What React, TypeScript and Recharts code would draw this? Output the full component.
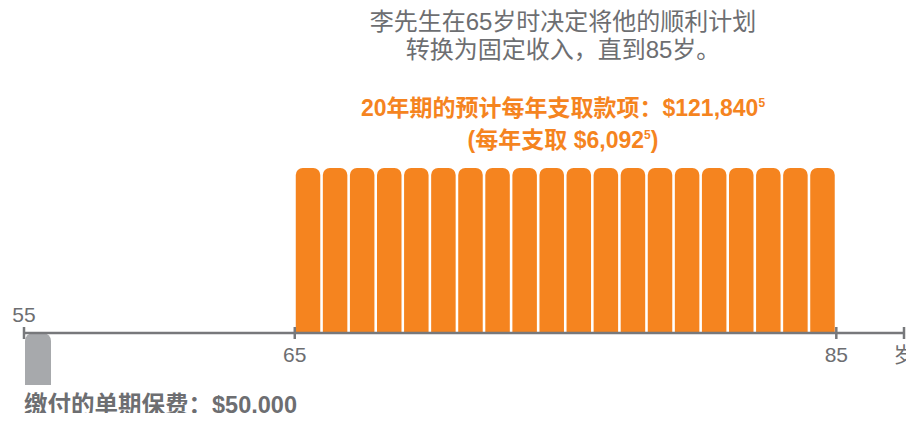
import { ComposedChart, Bar, XAxis, YAxis, ReferenceLine, ReferenceDot } from 'recharts';

// ages (bar centres) and values
const payoutAges = [65.5, 66.5, 67.5, 68.5, 69.5, 70.5, 71.5, 72.5, 73.5, 74.5, 75.5, 76.5, 77.5, 78.5, 79.5, 80.5, 81.5, 82.5, 83.5, 84.5];
const payoutValues = [6092, 6092, 6092, 6092, 6092, 6092, 6092, 6092, 6092, 6092, 6092, 6092, 6092, 6092, 6092, 6092, 6092, 6092, 6092, 6092];
const premiumAges = [55.5];
const premiumValues = [-50000];

const tickValues = [55, 65, 85, 87.5];
const tickLabels = ['55', '65', '85', '岁'];
const tickAbove = [true, false, false, false];

const ORANGE = '#f5841f';
const GRAY_BAR = '#a7a9ac';
const AXIS = '#77787b';
const TEXT = '#6d6e71';
const FONT = '"Liberation Sans", Arial, "Noto Sans CJK SC", sans-serif';

// drawn heights (px) of the two bar kinds, both measured from the axis line
const PAY_PX = 165;
const PREM_PX = 52;

const data = [
	...premiumAges.map((age, i) => ({ age, premium: premiumValues[i] })),
	...payoutAges.map((age, i) => ({ age, payout: payoutValues[i] })),
];

const maxPay = Math.max(...payoutValues);
const minPrem = Math.min(...premiumValues);
const payDomain = [(-maxPay * PREM_PX) / PAY_PX, maxPay];
const premDomain = [minPrem, (-minPrem * PAY_PX) / PREM_PX];

const TickMark = (props: any) => {
	const { cx, cy, label, above } = props;
	return (
		<g>
			<line x1={cx} x2={cx} y1={cy - 6} y2={cy + 6} stroke={AXIS} strokeWidth={2.5} />
			<text
				x={cx}
				y={above ? cy - 11 : cy + 29}
				textAnchor='middle'
				fill={TEXT}
				fontSize={21}
				fontFamily={FONT}
			>
				{label}
			</text>
		</g>
	);
};

const supStyle = { fontSize: 12, verticalAlign: 9 };

const App = () => {
	return (
		<div style={{ position: 'relative', width: 906, height: 405, fontFamily: FONT }}>
			<style>{'html, body { overflow: hidden; } .recharts-surface { overflow: visible; }'}</style>
			<div
				style={{
					position: 'absolute',
					left: 255,
					width: 600,
					top: 0,
					textAlign: 'center',
					color: TEXT,
					fontSize: 24,
					lineHeight: '28px',
					whiteSpace: 'nowrap',
				}}
			>
				李先生在65岁时决定将他的顺利计划
				<br />
				转换为固定收入，直到85岁。
			</div>
			<div
				style={{
					position: 'absolute',
					left: 255,
					width: 600,
					top: 82,
					textAlign: 'center',
					color: ORANGE,
					fontSize: 23,
					fontWeight: 'bold',
					lineHeight: '27px',
					whiteSpace: 'nowrap',
				}}
			>
				20年期的预计每年支取款项：$121,840<sup style={supStyle}>5</sup>
				<br />
				(每年支取 $6,092<sup style={supStyle}>5</sup>)
			</div>
			<div
				style={{
					position: 'absolute',
					left: 16,
					top: 383,
					color: TEXT,
					fontSize: 23.5,
					lineHeight: '28px',
					fontWeight: 'bold',
					whiteSpace: 'nowrap',
				}}
			>
				缴付的单期保费：$50,000
			</div>
			<ComposedChart
				width={906}
				height={400}
				data={data}
				margin={{ top: 160, right: 10, bottom: 23, left: 16 }}
				style={{ position: 'absolute', left: 0, top: 0 }}
			>
				<XAxis xAxisId='pay' dataKey='age' type='number' domain={[55, 87.5]} hide />
				<XAxis xAxisId='prem' dataKey='age' type='number' domain={[55, 87.5]} hide />
				<YAxis yAxisId='pay' type='number' domain={payDomain} hide />
				<YAxis yAxisId='prem' type='number' domain={premDomain} hide />
				<Bar
					xAxisId='prem'
					yAxisId='prem'
					dataKey='premium'
					fill={GRAY_BAR}
					barSize={26}
					radius={[0, 0, 8, 8]}
					isAnimationActive={false}
				/>
				<Bar
					xAxisId='pay'
					yAxisId='pay'
					dataKey='payout'
					fill={ORANGE}
					barSize={24.5}
					radius={[7, 7, 0, 0]}
					isAnimationActive={false}
				/>
				<ReferenceLine
					xAxisId='pay'
					yAxisId='pay'
					segment={[
						{ x: tickValues[0], y: 0 },
						{ x: tickValues[tickValues.length - 1], y: 0 },
					]}
					stroke={AXIS}
					strokeWidth={2.5}
				/>
				{tickValues.map((t, i) => (
					<ReferenceDot
						key={t}
						xAxisId='pay'
						yAxisId='pay'
						x={t}
						y={0}
						r={0}
						ifOverflow='visible'
						shape={(p: any) => <TickMark {...p} label={tickLabels[i]} above={tickAbove[i]} />}
					/>
				))}
			</ComposedChart>
		</div>
	);
};

export default App;
